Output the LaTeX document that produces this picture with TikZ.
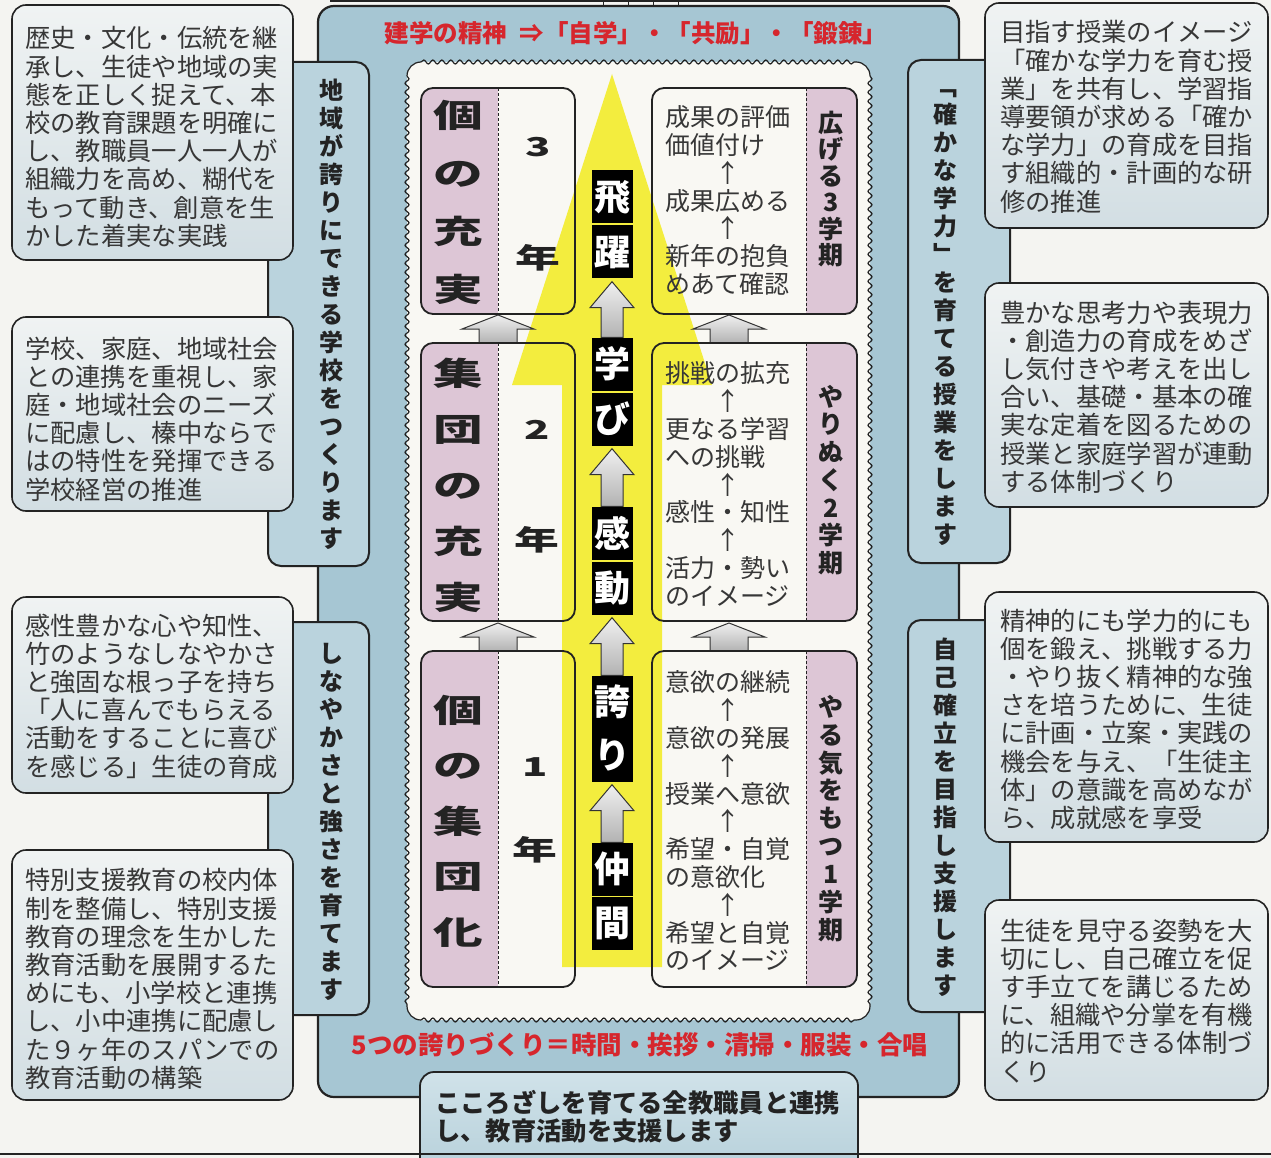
\documentclass[tikz,border=0pt]{standalone}
\usepackage{fontspec}
\usepackage{graphicx}
\usetikzlibrary{decorations.pathmorphing,calc}
\setmainfont{Noto Sans CJK JP}
\newfontfamily\jp{Noto Sans CJK JP}
\newfontfamily\jpw{Noto Sans CJK JP}[FakeStretch=1.55]
\newfontfamily\jpx{Noto Sans CJK JP}[FakeStretch=1.6]
\definecolor{ink}{RGB}{35,35,35}
\definecolor{ink2}{RGB}{55,55,55}
\definecolor{pagebg}{RGB}{244,244,241}
\definecolor{framebg}{RGB}{166,198,211}
\definecolor{tabfill}{RGB}{186,211,221}
\definecolor{boxtop}{RGB}{240,243,243}
\definecolor{boxbot}{RGB}{210,222,227}
\definecolor{innerbg}{RGB}{249,248,243}
\definecolor{pinkc}{RGB}{221,198,214}
\definecolor{redt}{RGB}{214,38,45}
\definecolor{yel}{RGB}{243,237,62}
\definecolor{btop}{RGB}{208,226,233}
\definecolor{bbot}{RGB}{182,208,218}
\newcommand\uparrowline{\hspace*{50pt}\makebox[25pt]{↑}}
\newcommand\gradefill[2]{\begin{scope}\clip[rounded corners=12pt] (421,#1) rectangle (575,#2);\fill[pinkc] (421,#1) rectangle (498,#2);\end{scope}}
\newcommand\termfill[2]{\begin{scope}\clip[rounded corners=12pt] (652,#1) rectangle (857,#2);\fill[pinkc] (806,#1) rectangle (857,#2);\end{scope}}
\newcommand\gradeline[2]{\draw[divider] (498,#1) -- (498,#2);\draw[boxline] (421,#1) rectangle (575,#2);}
\newcommand\termline[2]{\draw[divider] (806,#1) -- (806,#2);\draw[boxline] (652,#1) rectangle (857,#2);}
\newcommand\sidearrow[2]{\draw[garrow] (#1,#2) -- (#1+36,#2+14) -- (#1+19,#2+14) -- (#1+19,#2+28) -- (#1-19,#2+28) -- (#1-19,#2+14) -- (#1-36,#2+14) -- cycle;}
\newcommand\midarrow[2]{\draw[garrow] let \p1=(#1.south), \p2=(#2.north) in (\x1,\y1-3pt) -- (\x1+22pt,\y1-29pt) -- (\x1+11pt,\y1-29pt) -- (\x1+11pt,\y2) -- (\x1-11pt,\y2) -- (\x1-11pt,\y1-29pt) -- (\x1-22pt,\y1-29pt) -- cycle;}
\begin{document}
\begin{tikzpicture}[x=1pt,y=-1pt,
  frame/.style={draw=ink, line width=2.2pt, fill=framebg, rounded corners=16pt},
  tab/.style={draw=ink, line width=2pt, fill=tabfill, rounded corners=13pt},
  tbox/.style={draw=ink, line width=1.6pt, top color=boxtop, bottom color=boxbot, rounded corners=14pt},
  bbox/.style={draw=ink, line width=1.8pt, top color=btop, bottom color=bbot, rounded corners=14pt},
  para/.style={anchor=north west, align=left, inner sep=0pt, text=ink2, font=\jp\fontsize{25.3}{28.2}\selectfont},
  term/.style={anchor=north west, align=left, inner sep=0pt, text=ink2, font=\jp\fontsize{25}{27.8}\selectfont},
  tabtext/.style={align=center, inner sep=0pt, text=ink, font=\jp\bfseries\fontsize{24}{28}\selectfont},
  tlabel/.style={align=center, inner sep=0pt, text=ink},
  glabel/.style={align=center, inner sep=0pt, text=ink},
  gnum/.style={inner sep=0pt, text=ink, font=\jpx\bfseries\fontsize{26}{26}\selectfont},
  gnen/.style={inner sep=0pt, text=ink, font=\jpx\bfseries\fontsize{28}{28}\selectfont},
  cbox/.style={fill=black, text=white, minimum width=41pt, minimum height=53pt, inner sep=0pt, font=\jp\bfseries\fontsize{36}{36}\selectfont},
  redtext/.style={inner sep=0pt, text=redt, font=\jp\bfseries\fontsize{24.5}{24.5}\selectfont},
  divider/.style={draw=ink, line width=0.8pt, dash pattern=on 3pt off 2pt},
  boxline/.style={draw=ink, line width=1.8pt, rounded corners=12pt},
  garrow/.style={draw=gray!40!black, line width=1pt, top color=gray!12, bottom color=gray!60},
  wavy/.style={draw=ink, line width=1.2pt, decorate, decoration={snake, segment length=9pt, amplitude=2pt}}
]
\useasboundingbox (0,0) rectangle (1271,1158);
\fill[pagebg] (0,0) rectangle (1271,1158);
% top cut-off lines
\draw[ink, line width=1.2pt] (330,1) -- (950,1);
\foreach \tx in {603,628,653,678} \draw[ink, line width=1pt] (\tx,0) -- (\tx,6);
% outer frame
\draw[frame] (318,6) rectangle (959,1097);
\node[redtext] (title) at (636,33) {建学の精神\enspace⇒「自学」・「共励」・「鍛錬」};
\node[redtext, font=\jp\bfseries\fontsize{25.5}{25.5}\selectfont] (pride) at (640,1045) {5つの誇りづくり＝時間・挨拶・清掃・服装・合唱};
% tabs
\draw[tab] (268,62) rectangle (369,566);
\draw[tab] (268,622) rectangle (369,1015);
\draw[tab] (908,60) rectangle (1010,563);
\draw[tab] (908,620) rectangle (1010,1012);
\node[tabtext] (lt1) at (331,314) {地\\域\\が\\誇\\り\\に\\で\\き\\る\\学\\校\\を\\つ\\く\\り\\ま\\す};
\node[tabtext] (lt2) at (331,822) {し\\な\\や\\か\\さ\\と\\強\\さ\\を\\育\\て\\ま\\す};
\node[tabtext] (rt1) at (945,318) {﹁\\確\\か\\な\\学\\力\\﹂\\を\\育\\て\\る\\授\\業\\を\\し\\ま\\す};
\node[tabtext] (rt2) at (945,817) {自\\己\\確\\立\\を\\目\\指\\し\\支\\援\\し\\ま\\す};
% side text boxes
\draw[tbox] (12,5) rectangle (293,260);
\draw[tbox] (12,317) rectangle (293,511);
\draw[tbox] (12,597) rectangle (293,793);
\draw[tbox] (12,850) rectangle (293,1100);
\draw[tbox] (985,3) rectangle (1268,228);
\draw[tbox] (985,283) rectangle (1268,507);
\draw[tbox] (985,592) rectangle (1268,842);
\draw[tbox] (985,900) rectangle (1268,1100);
\node[para] (l1) at (25,26.5) {歴史・文化・伝統を継\\承し、生徒や地域の実\\態を正しく捉えて、本\\校の教育課題を明確に\\し、教職員一人一人が\\組織力を高め、糊代を\\もって動き、創意を生\\かした着実な実践};
\node[para] (l2) at (25,336.5) {学校、家庭、地域社会\\との連携を重視し、家\\庭・地域社会のニーズ\\に配慮し、榛中ならで\\はの特性を発揮できる\\学校経営の推進};
\node[para] (l3) at (25,613.5) {感性豊かな心や知性、\\竹のようなしなやかさ\\と強固な根っ子を持ち\\「人に喜んでもらえる\\活動をすることに喜び\\を感じる」生徒の育成};
\node[para] (l4) at (25,868.5) {特別支援教育の校内体\\制を整備し、特別支援\\教育の理念を生かした\\教育活動を展開するた\\めにも、小学校と連携\\し、小中連携に配慮し\\た９ヶ年のスパンでの\\教育活動の構築};
\node[para] (r1) at (1000,20.5) {目指す授業のイメージ\\「確かな学力を育む授\\業」を共有し、学習指\\導要領が求める「確か\\な学力」の育成を目指\\す組織的・計画的な研\\修の推進};
\node[para] (r2) at (1000,300.5) {豊かな思考力や表現力\\・創造力の育成をめざ\\し気付きや考えを出し\\合い、基礎・基本の確\\実な定着を図るための\\授業と家庭学習が連動\\する体制づくり};
\node[para] (r3) at (1000,608.5) {精神的にも学力的にも\\個を鍛え、挑戦する力\\・やり抜く精神的な強\\さを培うために、生徒\\に計画・立案・実践の\\機会を与え、「生徒主\\体」の意識を高めなが\\ら、成就感を享受};
\node[para] (r4) at (1000,918.5) {生徒を見守る姿勢を大\\切にし、自己確立を促\\す手立てを講じるため\\に、組織や分掌を有機\\的に活用できる体制づ\\くり};
% bottom box
\draw[bbox] (420,1175) -- (420,1072) -- (858,1072) -- (858,1175);
\node[anchor=north west, align=left, inner sep=0pt, text=ink, font=\jp\bfseries\fontsize{25.3}{28}\selectfont] (bt) at (435,1090) {こころざしを育てる全教職員と連携\\し、教育活動を支援します};
\draw[ink, line width=1.6pt] (0,1154) -- (1271,1154);
% inner wavy frame
\fill[innerbg, rounded corners=14pt] (407,62) rectangle (870,1020);
\draw[wavy] (421,62) -- (856,62);
\draw[wavy] (421,1020) -- (856,1020);
\draw[wavy] (407,76) -- (407,1006);
\draw[wavy] (870,76) -- (870,1006);
\draw[ink, line width=1.2pt] (407,76) arc[start angle=180, end angle=270, radius=14] (856,62) arc[start angle=270, end angle=360, radius=14];
\draw[ink, line width=1.2pt] (407,1006) arc[start angle=180, end angle=90, radius=14] (856,1020) arc[start angle=90, end angle=0, radius=14];
% box fills
\gradefill{88}{314}
\gradefill{343}{621}
\gradefill{651}{987}
\termfill{88}{314}
\termfill{343}{621}
\termfill{651}{987}
% yellow arrow
\fill[yel] (612,74) -- (712,385) -- (662,385) -- (662,967) -- (562,967) -- (562,385) -- (512,385) -- cycle;
% side arrows
\sidearrow{498}{315}
\sidearrow{729}{315}
\sidearrow{498}{623}
\sidearrow{729}{623}
% box borders
\gradeline{88}{314}
\gradeline{343}{621}
\gradeline{651}{987}
\termline{88}{314}
\termline{343}{621}
\termline{651}{987}
% grade labels
\node[glabel, font=\jpw\bfseries\fontsize{32}{58}\selectfont] (gl3) at (458,202) {個\\の\\充\\実};
\node[glabel, font=\jpw\bfseries\fontsize{32}{56}\selectfont] (gl2) at (458,485) {集\\団\\の\\充\\実};
\node[glabel, font=\jpw\bfseries\fontsize{32}{55.5}\selectfont] (gl1) at (458,821) {個\\の\\集\\団\\化};
\node[gnum] (n3) at (538,147) {3};
\node[gnen] (y3) at (538,258) {年};
\node[gnum] (n2) at (537,430) {2};
\node[gnen] (y2) at (537,540) {年};
\node[gnum] (n1) at (535,767) {1};
\node[gnen] (y1) at (535,850) {年};
% term texts
\node[term] (t3) at (665,105.6) {成果の評価\\価値付け\\\uparrowline\\成果広める\\\uparrowline\\新年の抱負\\めあて確認};
\node[term] (t2) at (665,361.6) {挑戦の拡充\\\uparrowline\\更なる学習\\への挑戦\\\uparrowline\\感性・知性\\\uparrowline\\活力・勢い\\のイメージ};
\node[term] (t1) at (665,670.6) {意欲の継続\\\uparrowline\\意欲の発展\\\uparrowline\\授業へ意欲\\\uparrowline\\希望・自覚\\の意欲化\\\uparrowline\\希望と自覚\\のイメージ};
\node[tlabel, font=\jp\bfseries\fontsize{25}{26.5}\selectfont] (lab3) at (831,189) {広\\げ\\る\\3\\学\\期};
\node[tlabel, font=\jp\bfseries\fontsize{25}{27.7}\selectfont] (lab2) at (831,480) {や\\り\\ぬ\\く\\2\\学\\期};
\node[tlabel, font=\jp\bfseries\fontsize{25}{27.9}\selectfont] (lab1) at (831,818.5) {や\\る\\気\\を\\も\\つ\\1\\学\\期};
% center column
\node[cbox] (c1) at (612,197) {飛};
\node[cbox] (c2) at (612,252) {躍};
\node[cbox] (c3) at (612,364) {学};
\node[cbox] (c4) at (612,419) {び};
\node[cbox] (c5) at (612,533) {感};
\node[cbox] (c6) at (612,588) {動};
\node[cbox] (c7) at (612,702) {誇};
\node[cbox] (c8) at (612,755) {り};
\node[cbox] (c9) at (612,869) {仲};
\node[cbox] (c10) at (612,923) {間};
\midarrow{c2}{c3}
\midarrow{c4}{c5}
\midarrow{c6}{c7}
\midarrow{c8}{c9}
\end{tikzpicture}
\end{document}
